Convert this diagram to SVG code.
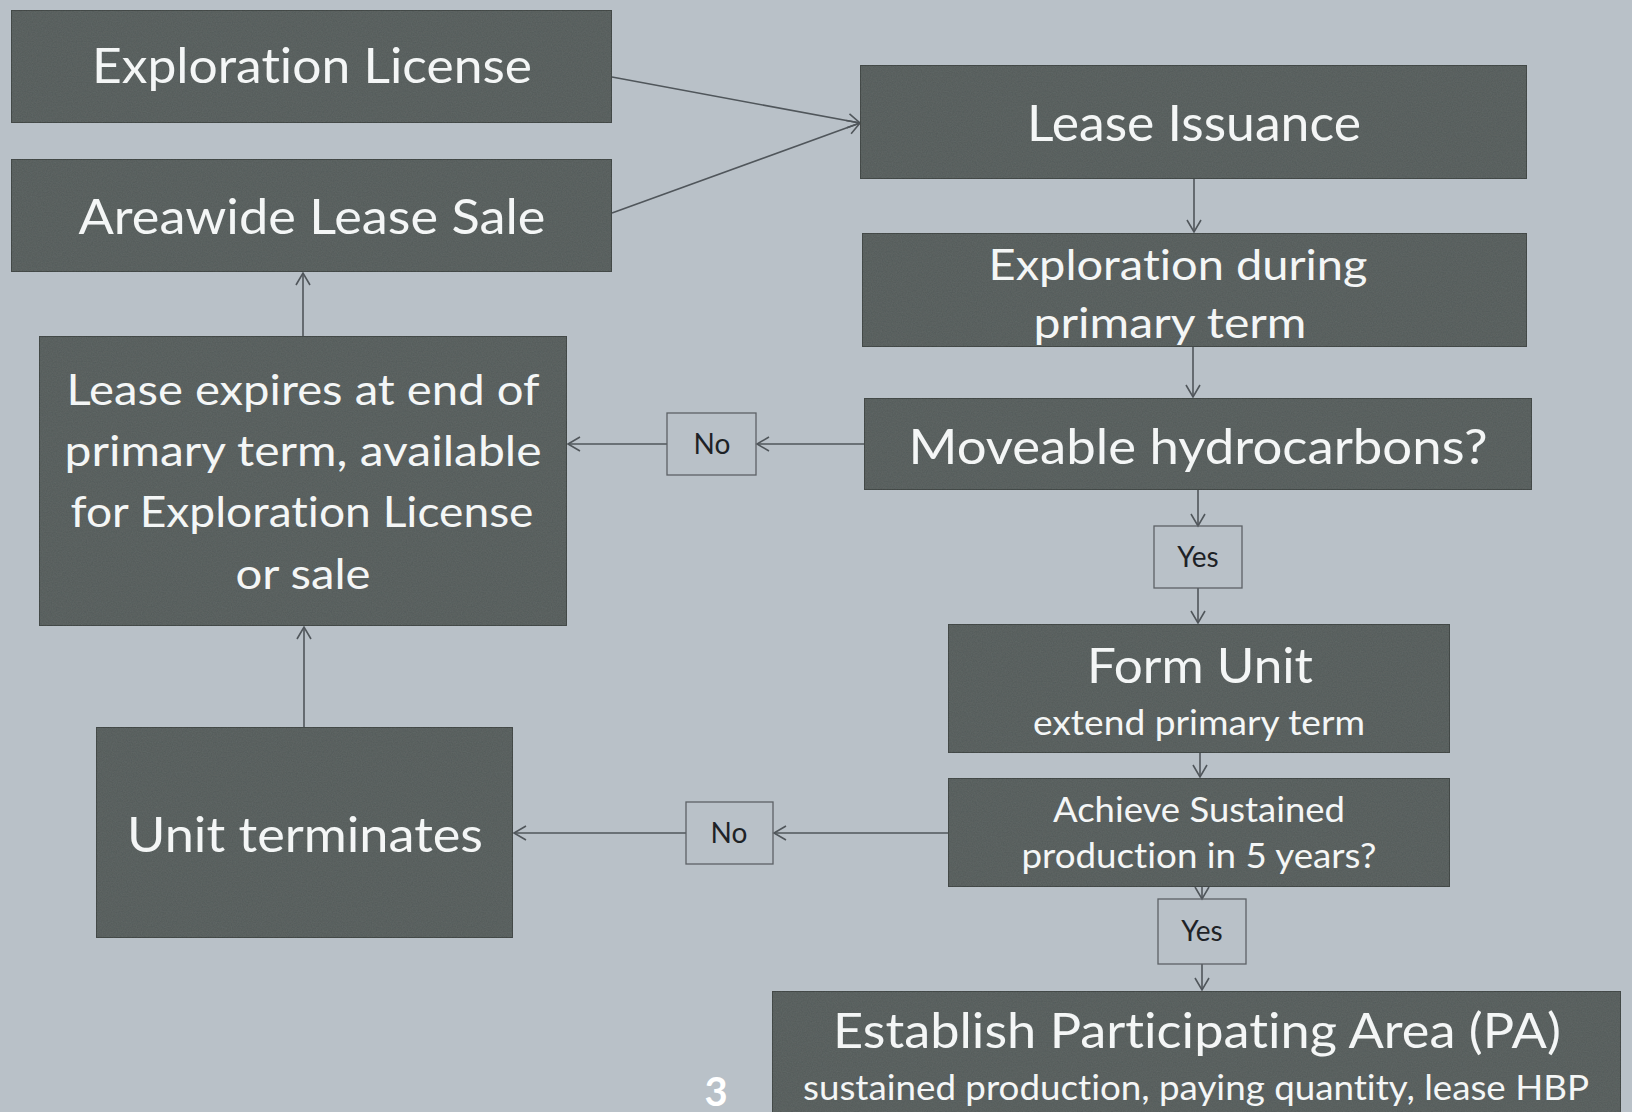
<svg xmlns="http://www.w3.org/2000/svg" width="1632" height="1112" viewBox="0 0 1632 1112">
<defs>
<style>
.bg{fill:#b9c1c8}
.box{fill:#616866;stroke:#4a504e;stroke-width:2;filter:url(#grain)}
.lbl{fill:none;stroke:#5c6166;stroke-width:1.3}
.t{fill:#f4f6f6;font-family:Lato,"Open Sans","Liberation Sans",sans-serif;text-anchor:middle;font-variant-ligatures:none}
.lt{fill:#1e2226;font-family:Lato,"Open Sans","Liberation Sans",sans-serif;text-anchor:middle;font-size:28px}
.c{fill:none;stroke:#50565b;stroke-width:1.6}
.a{marker-end:url(#arr)}
</style>
<filter id="grain" x="0" y="0" width="100%" height="100%">
<feTurbulence type="fractalNoise" baseFrequency="0.8" numOctaves="2" seed="4" result="n"/>
<feColorMatrix in="n" type="luminanceToAlpha" result="la"/>
<feComponentTransfer in="la" result="na"><feFuncA type="linear" slope="0.35" intercept="-0.05"/></feComponentTransfer>
<feComposite in="na" in2="SourceGraphic" operator="in" result="clip"/>
<feMerge><feMergeNode in="SourceGraphic"/><feMergeNode in="clip"/></feMerge>
</filter>
<marker id="arr" viewBox="-14 -9 16 18" refX="0" refY="0" markerWidth="16" markerHeight="18" markerUnits="userSpaceOnUse" orient="auto">
<path d="M-12,-7 L0,0 L-12,7" fill="none" stroke="#50565b" stroke-width="1.6"/>
</marker>
</defs>
<rect class="bg" x="0" y="0" width="1632" height="1112"/>

<g id="connectors">
<line class="c a" x1="612" y1="77" x2="860" y2="123"/>
<line class="c a" x1="612" y1="213" x2="860" y2="123"/>
<line class="c a" x1="1194" y1="179" x2="1194" y2="232"/>
<line class="c a" x1="1193" y1="347" x2="1193" y2="397"/>
<line class="c a" x1="1198" y1="490" x2="1198" y2="526"/>
<line class="c a" x1="1198" y1="588" x2="1198" y2="623"/>
<line class="c a" x1="1200" y1="753" x2="1200" y2="777"/>
<line class="c a" x1="1202" y1="887" x2="1202" y2="899"/>
<line class="c a" x1="1202" y1="964" x2="1202" y2="990"/>
<line class="c a" x1="864" y1="444" x2="757" y2="444"/>
<line class="c a" x1="667" y1="444" x2="568" y2="444"/>
<line class="c a" x1="948" y1="833" x2="774" y2="833"/>
<line class="c a" x1="686" y1="833" x2="514" y2="833"/>
<line class="c a" x1="304" y1="727" x2="304" y2="627"/>
<line class="c a" x1="303" y1="336" x2="303" y2="273"/>
</g>

<g id="exploration-license">
<rect class="box" x="11" y="10" width="601" height="113"/>
<text class="t" x="312" y="83" font-size="48" textLength="440" lengthAdjust="spacingAndGlyphs">Exploration License</text>
</g>

<g id="areawide-lease-sale">
<rect class="box" x="11" y="159" width="601" height="113"/>
<text class="t" x="312" y="234" font-size="48" textLength="467" lengthAdjust="spacingAndGlyphs">Areawide Lease Sale</text>
</g>

<g id="lease-issuance">
<rect class="box" x="860" y="65" width="667" height="114"/>
<text class="t" x="1194" y="141" font-size="50" textLength="334" lengthAdjust="spacingAndGlyphs">Lease Issuance</text>
</g>

<g id="exploration-primary-term">
<rect class="box" x="862" y="233" width="665" height="114"/>
<text class="t" x="1178" y="280" font-size="43" textLength="379" lengthAdjust="spacingAndGlyphs">Exploration during</text>
<text class="t" x="1170" y="338" font-size="43" textLength="273" lengthAdjust="spacingAndGlyphs">primary term</text>
</g>

<g id="moveable-hydrocarbons">
<rect class="box" x="864" y="398" width="668" height="92"/>
<text class="t" x="1198" y="464" font-size="49" textLength="579" lengthAdjust="spacingAndGlyphs">Moveable hydrocarbons?</text>
</g>

<g id="lease-expires">
<rect class="box" x="39" y="336" width="528" height="290"/>
<text class="t" x="303" y="405" font-size="42" textLength="473" lengthAdjust="spacingAndGlyphs">Lease expires at end of</text>
<text class="t" x="303" y="466" font-size="42" textLength="477" lengthAdjust="spacingAndGlyphs">primary term, available</text>
<text class="t" x="302" y="527" font-size="42" textLength="463" lengthAdjust="spacingAndGlyphs">for Exploration License</text>
<text class="t" x="303" y="589" font-size="42" textLength="135" lengthAdjust="spacingAndGlyphs">or sale</text>
</g>

<g id="no-1">
<rect class="lbl" x="667" y="413" width="89" height="62"/>
<text class="lt" x="712" y="454">No</text>
</g>

<g id="yes-1">
<rect class="lbl" x="1154" y="526" width="88" height="62"/>
<text class="lt" x="1198" y="567">Yes</text>
</g>

<g id="form-unit">
<rect class="box" x="948" y="624" width="502" height="129"/>
<text class="t" x="1200" y="683" font-size="49" textLength="226" lengthAdjust="spacingAndGlyphs">Form Unit</text>
<text class="t" x="1199" y="735" font-size="34" textLength="332" lengthAdjust="spacingAndGlyphs">extend primary term</text>
</g>

<g id="achieve-sustained">
<rect class="box" x="948" y="778" width="502" height="109"/>
<text class="t" x="1199" y="822" font-size="34" textLength="292" lengthAdjust="spacingAndGlyphs">Achieve Sustained</text>
<text class="t" x="1199" y="868" font-size="34" textLength="355" lengthAdjust="spacingAndGlyphs">production in 5 years?</text>
</g>

<g id="no-2">
<rect class="lbl" x="686" y="802" width="87" height="62"/>
<text class="lt" x="729" y="843">No</text>
</g>

<g id="unit-terminates">
<rect class="box" x="96" y="727" width="417" height="211"/>
<text class="t" x="305" y="852" font-size="49" textLength="356" lengthAdjust="spacingAndGlyphs">Unit terminates</text>
</g>

<g id="yes-2">
<rect class="lbl" x="1158" y="899" width="88" height="65"/>
<text class="lt" x="1202" y="941">Yes</text>
</g>

<g id="establish-pa">
<rect class="box" x="772" y="991" width="849" height="140"/>
<text class="t" x="1197" y="1048" font-size="49" textLength="728" lengthAdjust="spacingAndGlyphs">Establish Participating Area (PA)</text>
<text class="t" x="1196" y="1100" font-size="35" textLength="786" lengthAdjust="spacingAndGlyphs">sustained production, paying quantity, lease HBP</text>
</g>

<text x="716" y="1106" font-size="40" font-weight="bold" fill="#ffffff" font-family="Lato,'Open Sans','Liberation Sans',sans-serif" text-anchor="middle">3</text>
</svg>
